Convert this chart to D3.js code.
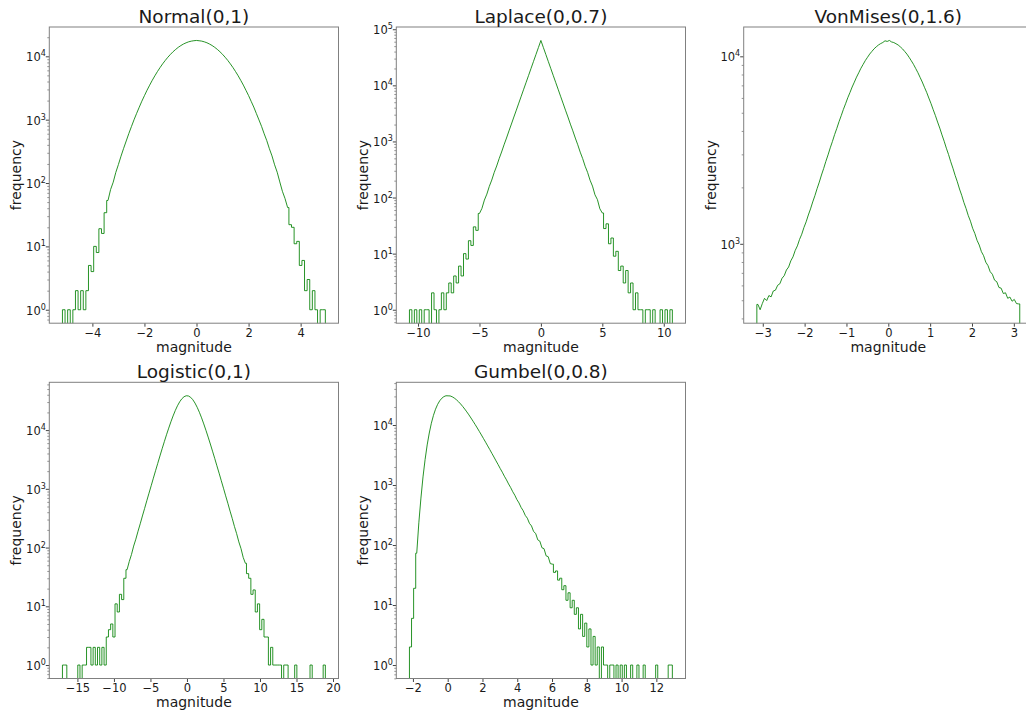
<!DOCTYPE html>
<html><head><meta charset="utf-8">
<script src="https://cdn.jsdelivr.net/npm/d3@7"></script>
<style>
body{margin:0;background:#fff;}
svg{display:block;}
text{font-family:"DejaVu Sans",sans-serif;fill:#1a1a1a;}
</style>
</head><body>
<svg id="chart" width="1026" height="713"></svg>
<script>
// ---------------- data (histogram counts) ----------------
const titles = ["Normal(0,1)", "Laplace(0,0.7)", "VonMises(0,1.6)", "Logistic(0,1)", "Gumbel(0,0.8)"];

const normalStart = -5.15, normalBin = 0.1;
const normalCounts = [1,0,1,0,1,2,1,2,1,2,5,4,10,8,19,16,34,53,79,103,147,196,265,352,461,604,777,995,1256,1572,1955,2392,2915,3500,4178,4918,5751,6640,7610,8612,9675,10728,11815,12846,13864,14779,15627,16333,16930,17340,17625,
17780,
17600,17360,16912,16348,15610,14795,13850,12860,11800,10745,9660,8625,7598,6652,5740,4928,4168,3510,2905,2400,1946,1580,1250,990,781,598,466,348,268,194,148,104,74,57,41,22,20,11,12,5,6,2,3,1,2,1,0,1,1];
const normalTicks = [-4,-2,0,2,4];

const laplaceStart = -10.7, laplaceBin = 0.2;
const laplaceCounts = [1,0,1,0,1,0,1,1,0,2,1,0,1,2,1,2,3,2,4,3,6,4,10,8,17,14,30,26,52,64,90,115,158,205,280,365,493,648,870,1150,1540,2040,2725,3615,4820,6405,8530,11350,15090,20100,26730,35590,47340,
63100,
47350,35570,26745,20085,15110,11340,8535,6400,4825,3610,2730,2035,1545,1150,872,645,495,362,281,204,160,112,92,63,53,28,34,15,19,9,11,5,6,3,5,2,3,1,2,1,1,0,1,1,0,1,0,0,1,0,1,0,1];
const laplaceTicks = [-10,-5,0,5,10];

const vonMisesStart = -3.14159, vonMisesBin = 0.05236;
const vonMisesCounts = [475,445,480,512,498,530,521,560,566,601,612,655,676,725,752,811,852,921,975,1056,1125,1222,1310,1425,1535,1672,1806,1970,2133,2328,2522,2752,2981,3250,3515,3825,4128,4478,4820,5210,5585,6010,6410,6860,7280,7745,8170,8635,9050,9490,9880,10280,10620,10960,11240,11490,11690,11850,12100,12010,
12150,11930,11845,11675,11490,11230,10955,10615,10275,9880,9470,9065,8615,8185,7725,7295,6840,6425,5990,5595,5190,4830,4460,4140,3810,3525,3236,2992,2740,2530,2318,2142,1960,1815,1662,1542,1414,1320,1210,1135,1044,985,908,864,798,765,710,688,640,628,585,580,543,548,512,520,494,505,480,478];
const vonMisesTicks = [-3,-2,-1,0,1,2,3];

const logisticStart = -17.05, logisticBin = 0.3;
const logisticCounts = [1,1,0,0,0,0,0,1,0,1,1,2,2,1,2,1,2,1,2,1,3,4,5,3,11,8,16,13,30,42,58,76,106,139,190,254,345,463,626,843,1128,1518,2035,2718,3627,4814,6350,8325,10795,13830,17430,21525,25915,30280,34140,37000,38420,
38110,36195,32940,28850,24440,20110,16175,12750,9915,7610,5798,4380,3302,2468,1848,1374,1026,760,568,418,313,229,173,125,96,68,54,36,30,16,19,8,11,4,6,3,3,1,2,1,1,1,1,0,1,1,0,0,0,1,0,0,0,0,0,0,1,0,0,0,0,0,1];
const logisticTicks = [-15,-10,-5,0,5,10,15,20];

const gumbelStart = -2.2, gumbelBin = 0.12;
const gumbelCounts = [2,6,19,73,235,606,1365,2662,4660,7360,10700,14475,18350,22070,25325,27915,29730,30740,
30650,30550,29565,28130,26415,24485,22480,20440,18460,16545,14755,13085,11565,10175,8935,7810,6828,5940,5175,4490,3902,3375,2928,2525,2190,1884,1636,1402,1220,1043,908,774,676,572,503,424,374,312,280,230,208,168,156,122,116,90,87,66,64,49,48,35,37,26,28,18,21,12,16,9,12,7,9,4,7,3,5,2,4,1,3,1,2,0,2,1,1,0,1,1,0,1,0,1,0,1,0,0,1,0,0,1,0,0,1,0,0,0,0,0,1,0,0,0,0,0,1,1];
const gumbelTicks = [-2,0,2,4,6,8,10,12];

const xLabel = "magnitude", yLabel = "frequency";

// ---------------- layout ----------------
const W = 289.2, H = 296.2;
const origins = [[49.3,27],[396.3,27],[743.7,27],[49.3,382.3],[396.3,382.3]];
const smoothMin = 40; // above this count the (very fine) original bins read as a smooth line
const series = [
  {start: normalStart, bin: normalBin, counts: normalCounts, ticks: normalTicks},
  {start: laplaceStart, bin: laplaceBin, counts: laplaceCounts, ticks: laplaceTicks},
  {start: vonMisesStart, bin: vonMisesBin, counts: vonMisesCounts, ticks: vonMisesTicks},
  {start: logisticStart, bin: logisticBin, counts: logisticCounts, ticks: logisticTicks},
  {start: gumbelStart, bin: gumbelBin, counts: gumbelCounts, ticks: gumbelTicks}
];

const svg = d3.select("#chart");
svg.append("rect").attr("width",1026).attr("height",713).attr("fill","#fff");

series.forEach((s, i) => {
  const [ox, oy] = origins[i];
  const g = svg.append("g").attr("transform", `translate(${ox},${oy})`);
  const n = s.counts.length;
  const x0 = s.start, x1 = s.start + s.bin * n;
  const xr = x1 - x0;
  const x = d3.scaleLinear().domain([x0 - 0.05*xr, x1 + 0.05*xr]).range([0, W]);
  const pos = s.counts.filter(v => v > 0);
  const lo = Math.log10(d3.min(pos)), hi = Math.log10(d3.max(pos));
  const lr = hi - lo;
  const ylo = lo - 0.05*lr, yhi = hi + 0.05*lr;
  const y = d3.scaleLog().domain([Math.pow(10, ylo), Math.pow(10, yhi)]).range([H, 0]);
  const yv = v => v > 0 ? y(v) : H + 30;

  const cid = "clip" + i;
  g.append("clipPath").attr("id", cid).append("rect").attr("width", W).attr("height", H);

  // histogram outline (step where counts are small, smooth where bins are well filled)
  const c = s.counts;
  const big = k => k >= 0 && k < n && c[k] >= smoothMin;
  const pts = [[x0, 0]];
  c.forEach((v, k) => {
    const eL = s.start + s.bin * k, eR = eL + s.bin, m = eL + s.bin / 2;
    const sL = big(k) && big(k - 1), sR = big(k) && big(k + 1);
    if (!sL) pts.push([eL, v]);
    if (sL || sR) pts.push([m, v]);
    if (!sR) pts.push([eR, v]);
  });
  pts.push([x1, 0]);
  const line = d3.line().x(d => x(d[0])).y(d => yv(d[1]));
  g.append("g").attr("clip-path", `url(#${cid})`)
    .append("path").attr("d", line(pts))
    .attr("fill", "none").attr("stroke", "#008000").attr("stroke-width", 0.85);

  // x axis
  const xa = g.append("g").attr("transform", `translate(0,${H})`)
    .call(d3.axisBottom(x).tickValues(s.ticks).tickFormat(d3.format("~g")).tickSize(3.5).tickPadding(2));
  xa.select(".domain").remove();
  xa.selectAll("line").attr("stroke", "#444");
  xa.selectAll("text").attr("font-size", "11.5px").attr("font-family", "DejaVu Sans").attr("fill", "#1a1a1a");

  // y axis ticks (major + minor)
  const major = [];
  for (let k = Math.ceil(ylo); k <= Math.floor(yhi); k++) major.push(k);
  const minor = [];
  for (let k = Math.floor(ylo); k <= Math.ceil(yhi); k++) {
    for (let m = 2; m <= 9; m++) {
      const v = m * Math.pow(10, k);
      if (Math.log10(v) >= ylo && Math.log10(v) <= yhi) minor.push(v);
    }
  }
  const ya = g.append("g").call(d3.axisLeft(y).tickValues(major.map(k => Math.pow(10, k))).tickSize(3.5).tickFormat(""));
  ya.select(".domain").remove();
  ya.selectAll("line").attr("stroke", "#444");
  const ym = g.append("g").call(d3.axisLeft(y).tickValues(minor).tickSize(2).tickFormat(""));
  ym.select(".domain").remove();
  ym.selectAll("line").attr("stroke", "#666").attr("stroke-width", 0.7);

  major.forEach(k => {
    const t = g.append("text").attr("x", -3.5).attr("y", y(Math.pow(10, k)) + 5)
      .attr("text-anchor", "end").attr("font-size", "11.5px");
    t.append("tspan").text("10");
    t.append("tspan").attr("dy", -5).attr("font-size", "8px").text(k);
  });

  // spines
  g.append("rect").attr("width", W).attr("height", H)
    .attr("fill", "none").attr("stroke", "#808080").attr("stroke-width", 1);

  // labels
  g.append("text").attr("x", W/2).attr("y", -4.2).attr("text-anchor", "middle")
    .attr("font-size", "18.5px").text(titles[i]);
  g.append("text").attr("x", W/2).attr("y", H + 28.5).attr("text-anchor", "middle")
    .attr("font-size", "14px").text(xLabel);
  g.append("text").attr("transform", `translate(-32,${H/2}) rotate(-90)`)
    .attr("text-anchor", "middle").attr("dominant-baseline", "middle")
    .attr("font-size", "14px").text(yLabel);
});
</script>
</body></html>
